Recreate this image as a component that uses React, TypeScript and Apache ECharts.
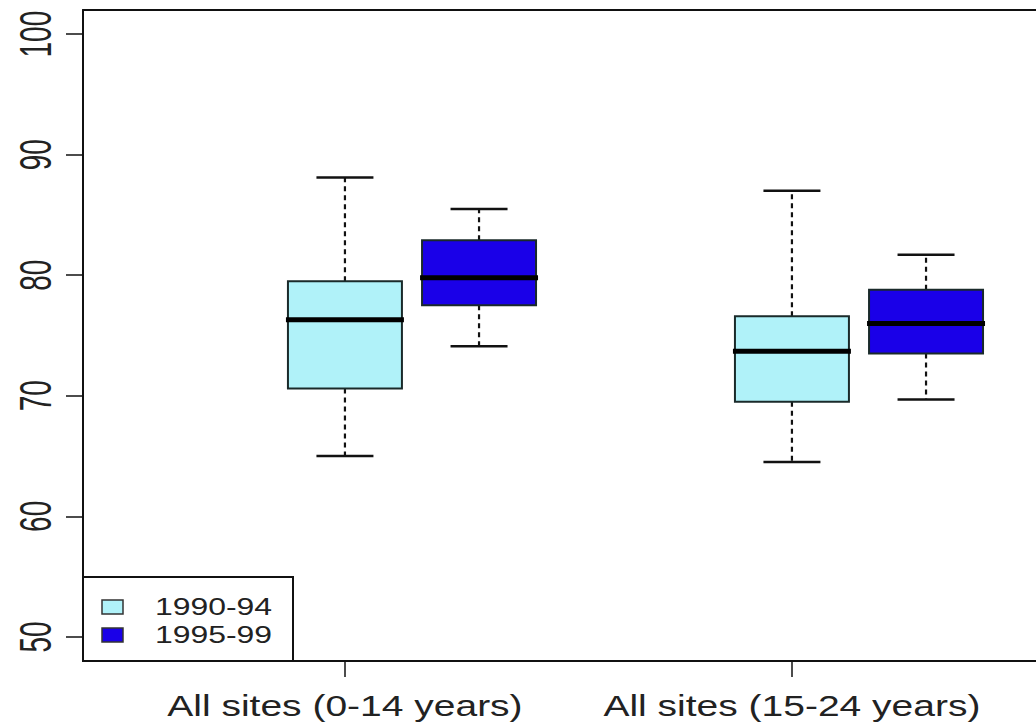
import React, { useEffect, useRef } from 'react';
import * as echarts from 'echarts';

const categories = ['All sites (0-14 years)', 'All sites (15-24 years)'];
const periods = ['1990-94', '1995-99'];
// [min, Q1, median, Q3, max] for each category
const stats1990 = [
  [65.0, 70.6, 76.3, 79.5, 88.1],
  [64.5, 69.5, 73.7, 76.6, 87.0],
];
const stats1995 = [
  [74.1, 77.5, 79.8, 82.9, 85.5],
  [69.7, 73.5, 76.0, 78.8, 81.7],
];
const yTicks = [50, 60, 70, 80, 90, 100];
const periodColors = ['#b0f2f9', '#1a00e8'];
const periodOffsets = [0, 0.3];

const BOX_W = 0.255;
const FONT = "'Liberation Sans', Arial, sans-serif";

export default function App() {
  const ref = useRef<HTMLDivElement>(null);

  useEffect(() => {
    if (!ref.current) return;
    const chart = echarts.init(ref.current, null, { renderer: 'svg' });
    const allStats = [stats1990, stats1995];

    const series = periods.map((p, pi) => ({
      type: 'custom',
      name: p,
      clip: false,
      data: categories.map((c, ci) => [ci + 1 + periodOffsets[pi], ...allStats[pi][ci]]),
      renderItem: (params: any, api: any) => {
        const x = api.value(0);
        const mn = api.value(1), q1 = api.value(2), md = api.value(3), q3 = api.value(4), mx = api.value(5);
        const [cx, yMin] = api.coord([x, mn]);
        const yQ1 = api.coord([x, q1])[1];
        const yMd = api.coord([x, md])[1];
        const yQ3 = api.coord([x, q3])[1];
        const yMax = api.coord([x, mx])[1];
        const bw = api.size([BOX_W, 0])[0];
        const cw = bw / 2;
        const dash = { stroke: '#111', lineWidth: 2.2, lineDash: [5, 4], fill: 'none' };
        const cap = { stroke: '#111', lineWidth: 2.5, fill: 'none' };
        return {
          type: 'group',
          children: [
            { type: 'line', shape: { x1: cx, y1: yQ3, x2: cx, y2: yMax }, style: dash },
            { type: 'line', shape: { x1: cx, y1: yQ1, x2: cx, y2: yMin }, style: dash },
            { type: 'line', shape: { x1: cx - cw / 2, y1: yMax, x2: cx + cw / 2, y2: yMax }, style: cap },
            { type: 'line', shape: { x1: cx - cw / 2, y1: yMin, x2: cx + cw / 2, y2: yMin }, style: cap },
            {
              type: 'rect',
              shape: { x: cx - bw / 2, y: yQ3, width: bw, height: yQ1 - yQ3 },
              style: { fill: periodColors[pi], stroke: '#1a2a2a', lineWidth: 2 },
            },
            {
              type: 'line',
              shape: { x1: cx - bw / 2 - 2, y1: yMd, x2: cx + bw / 2 + 2, y2: yMd },
              style: { stroke: '#000', lineWidth: 5 },
            },
          ],
        };
      },
    }));

    const axisLine = { show: true, onZero: false, lineStyle: { color: '#111', width: 2 } };
    const option: any = {
      animation: false,
      backgroundColor: '#ffffff',
      grid: {
        left: 83, top: 10, right: 0, bottom: 64, outerBoundsMode: 'none', containLabel: false,
      },
      xAxis: [
        {
          type: 'value', min: 0.414, max: 2.546, position: 'bottom',
          splitLine: { show: false },
          axisLine,
          axisTick: { show: true, customValues: [1, 2], length: 16, lineStyle: { color: '#111', width: 1.5 } },
          axisLabel: { show: false },
        },
        {
          type: 'value', min: 0.414, max: 2.546, position: 'top',
          splitLine: { show: false },
          axisLine,
          axisTick: { show: false },
          axisLabel: { show: false },
        },
      ],
      yAxis: {
        type: 'value', min: 48, max: 102,
        splitLine: { show: false },
        axisLine,
        axisTick: { show: true, customValues: yTicks, length: 17, lineStyle: { color: '#111', width: 1.5 } },
        axisLabel: { show: false },
      },
      series,
    };
    chart.setOption(option);

    const px = (x: number, y: number) => chart.convertToPixel({ xAxisIndex: 0, yAxisIndex: 0 } as any, [x, y]) as number[];
    const graphics: any[] = [];
    yTicks.forEach((t) => {
      const p = px(1, t);
      graphics.push({
        type: 'text', x: 35, y: p[1], rotation: Math.PI / 2, scaleY: 1.6, z: 100,
        style: { text: String(t), font: `28px ${FONT}`, fill: '#222', textAlign: 'center', textVerticalAlign: 'middle' },
      });
    });
    categories.forEach((c, ci) => {
      const p = px(ci + 1, 48);
      graphics.push({
        type: 'text', x: p[0], y: 706, scaleX: 1.3, z: 100,
        style: { text: c, font: `30px ${FONT}`, fill: '#222', textAlign: 'center', textVerticalAlign: 'middle' },
      });
    });
    // legend
    graphics.push({
      type: 'rect', z: 100, shape: { x: 83, y: 577, width: 210, height: 84 },
      style: { fill: '#fff', stroke: '#111', lineWidth: 2 },
    });
    periods.forEach((p, pi) => {
      const cy = 607 + pi * 28;
      graphics.push({
        type: 'rect', z: 101, shape: { x: 102, y: cy - 7, width: 21, height: 14 },
        style: { fill: periodColors[pi], stroke: '#333', lineWidth: 1.5 },
      });
      graphics.push({
        type: 'text', x: 155, y: cy, scaleX: 1.33, z: 101,
        style: { text: p, font: `24px ${FONT}`, fill: '#222', textAlign: 'left', textVerticalAlign: 'middle' },
      });
    });
    chart.setOption({ graphic: graphics });

    return () => chart.dispose();
  }, []);

  return (
    <div
      ref={ref}
      style={{ position: 'fixed', left: 0, top: 0, width: 1036, height: 725, background: '#fff' }}
    />
  );
}
